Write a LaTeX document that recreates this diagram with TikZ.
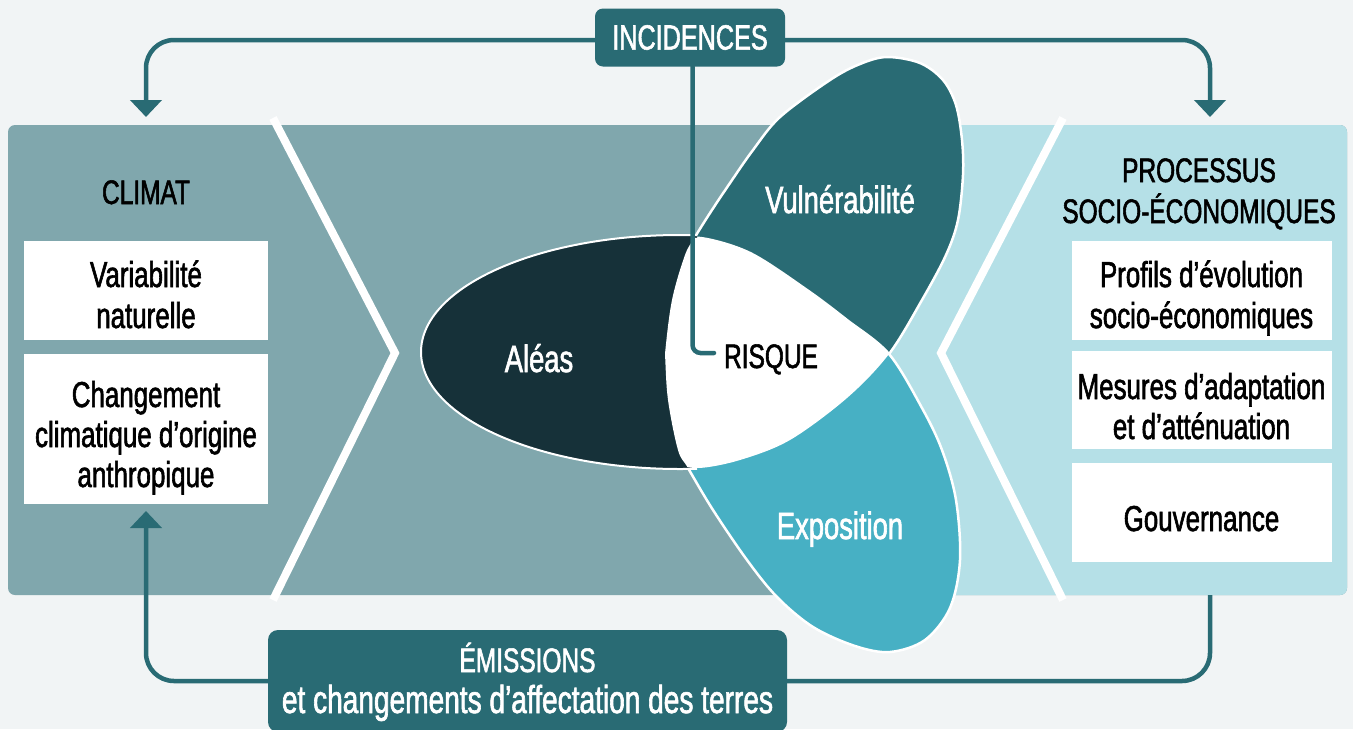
\documentclass[tikz,border=0pt]{standalone}
\usepackage{fontspec}
\setmainfont{Liberation Sans}[FakeStretch=0.72, FakeBold=1.6]
\usetikzlibrary{arrows.meta}

\definecolor{pagebg}{HTML}{F1F4F5}
\definecolor{climgrey}{HTML}{80A7AD}
\definecolor{sociob}{HTML}{B5E0E7}
\definecolor{deepteal}{HTML}{296B74}
\definecolor{hazard}{HTML}{163139}
\definecolor{expos}{HTML}{47B0C4}

% outline of the vulnerability petal (upper right)
\newcommand\vulnplot{plot[smooth cycle, tension=0.55] coordinates {(887,57) (920,63) (943,80) (956,105) (962,140) (963,175) (958,220) (946,255) (922,300) (889,354) (847,398) (790,440) (740,460) (698,468) (676,461) (666,435) (663,395) (665,354) (672,300) (685,255) (695,237) (710,213) (730,183) (753,150) (780,117) (830,80) (860,64)}}
% outline of the exposure petal (lower right)
\newcommand\expoplot{plot[smooth cycle, tension=0.55] coordinates {(890,652) (925,640) (950,608) (960,560) (956,500) (942,450) (922,408) (889,354) (847,320) (807,290) (750,253) (700,238) (678,245) (667,272) (663,310) (665,354) (668,400) (678,450) (688,468) (713,510) (747,560) (777,597) (813,627) (855,646)}}

\begin{document}
\begin{tikzpicture}[x=1pt, y=-1pt,
  link/.style={draw=deepteal, line width=4.5pt, rounded corners=28pt},
  arrowtip/.style={-{Triangle[width=31pt,length=17pt]}},
  chevron/.style={draw=white, line width=8pt},
  wbox/.style={fill=white, minimum width=244pt, inner sep=0pt, outer sep=0pt},
  rbox/.style={fill=white, minimum width=260pt, inner sep=0pt, outer sep=0pt},
  tagbox/.style={fill=deepteal, rounded corners=8pt, inner sep=0pt, outer sep=0pt},
  lbl/.style={anchor=base, inner sep=0pt},
  hdr/.style={lbl, font=\fontsize{34}{40}\selectfont, text=black},
  boxline/.style={lbl, font=\fontsize{36}{41}\selectfont, text=black},
  petallbl/.style={lbl, font=\fontsize{38}{44}\selectfont, text=white},
  rim/.style={draw=white, line width=2.5pt}
]
\useasboundingbox (0,0) rectangle (1353,729);
\clip (0,0) rectangle (1353,729);
\fill[pagebg] (0,0) rectangle (1353,729);

% main panel: grey climate side, light blue socio-economic side (its edge hides under the petals)
\node[fill=climgrey, rounded corners=7pt, minimum width=1339pt, minimum height=470pt,
      inner sep=0pt, outer sep=0pt] (panel) at (677.5,360) {};
\begin{scope}
  \clip[rounded corners=7pt] (8,125) rectangle (1347,595);
  \fill[sociob] (884,118) rectangle (1360,600);
\end{scope}

% white chevrons
\draw[chevron] (273,118) -- (395,353) -- (273,600);
\draw[chevron] (1063,118) -- (941,353) -- (1063,600);

% risk flower
\filldraw[fill=deepteal, rim] \vulnplot;
\filldraw[fill=expos, rim] \expoplot;
\begin{scope}
  \clip (0,0) rectangle (697,729);
  \filldraw[fill=hazard, draw=white, line width=2pt] (680,352) ellipse [x radius=259, y radius=117];
\end{scope}
\begin{scope}
  \clip \vulnplot;
  \fill[white] \expoplot;
\end{scope}

\node[petallbl] (aleas) at (539,372) {Aléas};
\node[petallbl] (vuln) at (840,213) {Vulnérabilité};
\node[petallbl] (expo) at (840,539) {Exposition};

% climate column
\node[hdr] (climat) at (146,204) {CLIMAT};
\node[wbox, minimum height=99pt] (natbox) at (146,290.5) {};
\node[boxline] (nat1) at (146,287) {Variabilité};
\node[boxline] (nat2) at (146,328) {naturelle};
\node[wbox, minimum height=150pt] (anthbox) at (146,429) {};
\node[boxline] (anth1) at (146,407) {Changement};
\node[boxline] (anth2) at (146,447) {climatique d’origine};
\node[boxline] (anth3) at (146,487) {anthropique};

% socio-economic column
\node[hdr] (proc1) at (1199,182) {PROCESSUS};
\node[hdr] (proc2) at (1199,223) {SOCIO-ÉCONOMIQUES};
\node[rbox, minimum height=99pt] (profbox) at (1201.5,290.5) {};
\node[boxline] (prof1) at (1201.5,287) {Profils d’évolution};
\node[boxline] (prof2) at (1201.5,328) {socio-économiques};
\node[rbox, minimum height=98pt] (adaptbox) at (1201.5,400) {};
\node[boxline] (adapt1) at (1201.5,399) {Mesures d’adaptation};
\node[boxline] (adapt2) at (1201.5,439) {et d’atténuation};
\node[rbox, minimum height=99pt] (govbox) at (1201.5,512.5) {};
\node[boxline] (gov1) at (1201.5,531) {Gouvernance};

% tags
\node[tagbox, minimum width=190pt, minimum height=58pt, text=white,
      font=\fontsize{35}{40}\selectfont] (incid) at (690,37.5) {INCIDENCES};
\node[tagbox, rounded corners=10pt, minimum width=519pt, minimum height=102pt] (emis) at (527.5,681) {};
\node[lbl, text=white, font=\fontsize{34}{40}\selectfont] (emis1) at (527.5,672) {ÉMISSIONS};
\node[lbl, text=white, font=\fontsize{39}{44}\selectfont] (emis2) at (527.5,713) {et changements d’affectation des terres};

% connectors
\coordinate (climin) at (146,117);
\coordinate (socin) at (1210,117);
\coordinate (rqend) at (714,353);
\draw[link, arrowtip] ([yshift=-2.5pt]incid.west) -| (climin);
\draw[link, arrowtip] ([yshift=-2.5pt]incid.east) -| (socin);
\draw[link, arrowtip] (emis.west) -| ([yshift=-7pt]anthbox.south);
\draw[link] (panel.south -| socin) |- (emis.east);
\draw[link, rounded corners=8pt, line cap=round] ([xshift=2.5pt]incid.south) |- (rqend);

\node[hdr] (risque) at (771,368) {RISQUE};
\end{tikzpicture}
\end{document}
